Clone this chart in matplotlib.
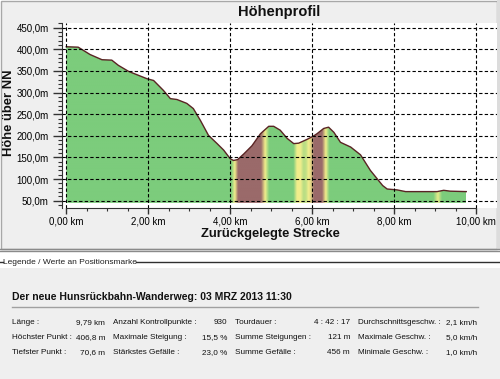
import numpy as np
import matplotlib
matplotlib.use('Agg')
import matplotlib.pyplot as plt
from matplotlib.colors import LinearSegmentedColormap
from matplotlib.patches import Rectangle
from matplotlib.ticker import FixedLocator, FuncFormatter

plt.rcParams['font.family'] = ['Liberation Sans', 'DejaVu Sans']

# elevation profile (km, m)
dist_km = [0.0, 0.29, 0.58, 0.87, 1.11, 1.27, 1.52, 1.97, 2.13, 2.37, 2.54, 2.70,
           2.94, 3.10, 3.27, 3.47, 3.68, 3.84, 4.00, 4.08, 4.18, 4.33, 4.53, 4.74,
           4.94, 5.06, 5.22, 5.39, 5.55, 5.67, 5.88, 6.04, 6.12, 6.28, 6.40, 6.53,
           6.69, 6.94, 7.18, 7.42, 7.72, 7.83, 8.07, 8.28, 9.05, 9.21, 9.37, 9.76]
elev_m = [406, 405, 388, 376, 375, 363, 349, 332, 328, 305, 286, 284,
          275, 263, 236, 201, 182, 167, 147, 143, 145, 158, 177, 205,
          222, 222, 213, 194, 182, 183, 192, 200, 205, 217, 220, 208,
          185, 174, 156, 120, 85, 77, 75, 71, 71, 74, 72, 71]

# slope shading: 0 = green, 1 = yellow, 2 = brown
band_km = [0.0, 4.03, 4.12, 4.20, 4.76, 4.86, 4.96, 5.55, 5.64, 5.72, 5.80, 5.86,
           5.92, 5.98, 6.05, 6.25, 6.34, 6.43, 8.97, 9.08, 9.18, 9.76]
band_lvl = [0, 0, 1, 2, 2, 1, 0, 0, 1, 1, 0.5, 0.6,
            1, 1.2, 2, 2, 1, 0, 0, 0.9, 0, 0]

y_ticks = [50, 100, 150, 200, 250, 300, 350, 400, 450]
x_ticks = [0, 2, 4, 6, 8, 10]

row_labels = [
    ['Länge :', '9,79 km', 'Anzahl Kontrollpunkte :', '930', 'Tourdauer :', '4 : 42 : 17', 'Durchschnittsgeschw. :', '2,1 km/h'],
    ['Höchster Punkt :', '406,8 m', 'Maximale Steigung :', '15,5 %', 'Summe Steigungen :', '121 m', 'Maximale Geschw. :', '5,0 km/h'],
    ['Tiefster Punkt :', '70,6 m', 'Stärkstes Gefälle :', '23,0 %', 'Summe Gefälle :', '456 m', 'Minimale Geschw. :', '1,0 km/h'],
]
tour_title = 'Der neue Hunsrückbahn-Wanderweg: 03 MRZ 2013 11:30'

W, H = 500, 379
fig = plt.figure(figsize=(5, 3.79), dpi=100, facecolor='white')

# background in pixel coordinates
bg = fig.add_axes([0, 0, 1, 1], zorder=0)
bg.set_xlim(0, W)
bg.set_ylim(H, 0)
bg.axis('off')
bg.add_patch(Rectangle((0.5, 0.5), 496, 248, facecolor='#efefef', edgecolor='#a8a8a8', lw=1))
bg.add_patch(Rectangle((497, 0), 3, 249, facecolor='#dcdcdc', edgecolor='none'))
bg.plot([0, W], [249, 249], color='#8a8a8a', lw=1)
bg.plot([0, W], [251, 251], color='#8a8a8a', lw=1)
bg.add_patch(Rectangle((0, 268), W, H - 268, facecolor='#efefef', edgecolor='none'))
bg.plot([0, 2.5], [262.3, 262.3], color='#303030', lw=1)
bg.plot([136, W], [262.3, 262.3], color='#303030', lw=1)
bg.text(3, 262, 'Legende / Werte an Positionsmarke', fontsize=6, va='center', ha='left', color='#202020')

bg.text(279, 12, 'Höhenprofil', fontsize=10.5, fontweight='bold', ha='center', va='center', color='#111111')
bg.text(270, 233.5, 'Zurückgelegte Strecke', fontsize=9.4, fontweight='bold', ha='center', va='center', color='#111111')
bg.text(8.7, 113, 'Höhe über NN', fontsize=9.4, fontweight='bold', ha='center', va='center', rotation=90, color='#111111')

bg.text(12.5, 296.7, tour_title, fontsize=7.5, fontweight='bold', ha='left', va='center', color='#111111')
bg.plot([12, 478], [306.7, 306.7], color='#a0a0a0', lw=1)
label_x = [11.7, 112.7, 235, 357.7]
value_x = [105, 227.3, 350, 477.3]
row_y = [322.3, 337.3, 352.3]
for r, row in enumerate(row_labels):
    for c in range(4):
        bg.text(label_x[c], row_y[r], row[2 * c], fontsize=5.9, ha='left', va='center', color='#111111')
        bg.text(value_x[c], row_y[r], row[2 * c + 1], fontsize=5.9, ha='right', va='center', color='#111111')

# chart axes
ax_l, ax_r, ax_t, ax_b = 62, 497, 23.3, 208
ax = fig.add_axes([ax_l / W, 1 - ax_b / H, (ax_r - ax_l) / W, (ax_b - ax_t) / H], zorder=1)
ax.set_facecolor('white')
ax.set_xlim(-0.105, 10.51)
ax.set_ylim(33.1, 460.2)

base = 45
poly = ax.fill_between(dist_km, elev_m, base, facecolor='none', edgecolor='none')
cmap = LinearSegmentedColormap.from_list('slope', ['#7ccc7c', '#f2ee8c', '#9a6a6a'])
xs = np.linspace(dist_km[0], dist_km[-1], 1000)
lvl = np.interp(xs, band_km, band_lvl) / 2.0
img = ax.imshow(cmap(lvl)[None, :, :3], extent=[dist_km[0], dist_km[-1], base, 460],
                aspect='auto', origin='lower', interpolation='bilinear', zorder=1)
img.set_clip_path(poly.get_paths()[0], transform=ax.transData)
ax.plot(dist_km, elev_m, color='#5a2424', lw=1, zorder=2)

ax.xaxis.set_major_locator(FixedLocator(x_ticks))
ax.xaxis.set_minor_locator(FixedLocator([v * 0.5 for v in range(21) if v % 4 != 0]))
ax.yaxis.set_major_locator(FixedLocator(y_ticks))
ax.yaxis.set_minor_locator(FixedLocator([v for v in range(40, 461, 10) if v % 50 != 0]))
ax.xaxis.set_major_formatter(FuncFormatter(lambda v, p: '{:.2f} km'.format(v).replace('.', ',')))
ax.yaxis.set_major_formatter(FuncFormatter(lambda v, p: '{:.1f}m'.format(v).replace('.', ',')))

ax.grid(True, which='major', color='black', ls=(0, (3, 2)), lw=0.8)
ax.set_axisbelow(False)

for s in ['top', 'right']:
    ax.spines[s].set_visible(False)
ax.spines['bottom'].set_bounds(0, 10)
ax.spines['left'].set_color('#333333')
ax.spines['bottom'].set_color('#333333')
ax.tick_params(axis='y', which='major', length=6.5, width=1, pad=3, labelsize=7, color='#333333')
ax.tick_params(axis='y', which='minor', length=3, width=0.8, color='#333333')
ax.tick_params(axis='x', which='major', length=4.3, width=1, pad=2, labelsize=7, color='#333333')
ax.tick_params(axis='x', which='minor', length=2.5, width=0.8, color='#333333')

plt.savefig('out.png', dpi=100, facecolor=fig.get_facecolor())
